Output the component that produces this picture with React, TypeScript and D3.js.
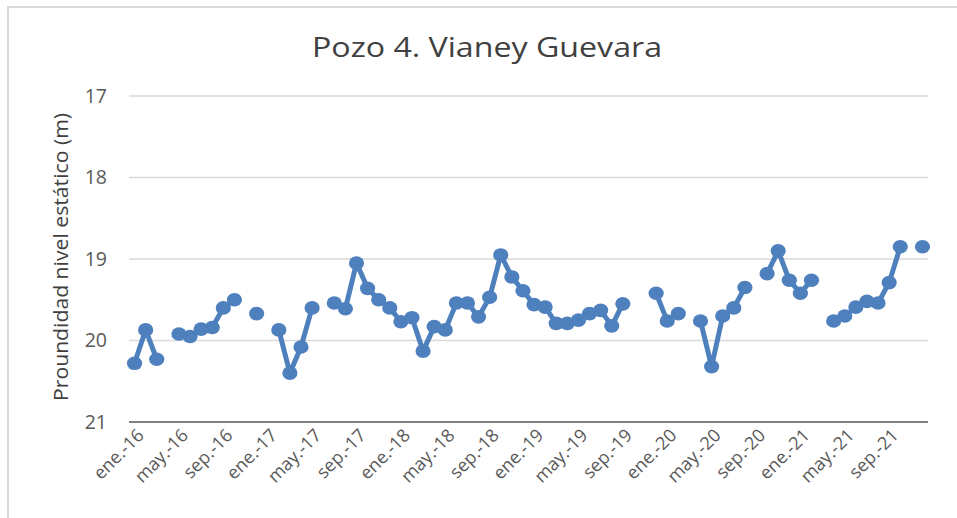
import { useRef, useEffect } from 'react';
import * as d3 from 'd3';

const monthNames = ['ene.', 'feb.', 'mar.', 'abr.', 'may.', 'jun.', 'jul.', 'ago.', 'sep.', 'oct.', 'nov.', 'dic.'];
const years = ['16', '17', '18', '19', '20', '21'];
const months = years.flatMap((y) => monthNames.map((m) => `${m}-${y}`));

// profundidad del nivel estático (m); null = sin medición
const depth: (number | null)[] = [
  20.28, 19.87, 20.23, null, 19.92, 19.95, 19.86, 19.84, 19.6, 19.5, null, 19.67,
  null, 19.87, 20.4, 20.08, 19.6, null, 19.54, 19.61, 19.05, 19.36, 19.5, 19.6,
  19.77, 19.72, 20.13, 19.83, 19.87, 19.54, 19.54, 19.71, 19.47, 18.95, 19.22, 19.39,
  19.56, 19.59, 19.79, 19.79, 19.75, 19.67, 19.63, 19.82, 19.55, null, null, 19.42,
  19.76, 19.67, null, 19.76, 20.32, 19.7, 19.6, 19.35, null, 19.18, 18.9, 19.26,
  19.42, 19.26, null, 19.76, 19.7, 19.59, 19.52, 19.54, 19.29, 18.85, null, 18.85,
];

const yTicks = [17, 18, 19, 20, 21];
const title = 'Pozo 4. Vianey Guevara';
const yTitle = 'Proundidad nivel estático (m)';

export default function App() {
  const ref = useRef<SVGSVGElement>(null);

  useEffect(() => {
    if (!ref.current) return;
    const width = 957;
    const height = 518;
    const margin = { top: 96, right: 29, bottom: 96, left: 129 };
    const blue = '#4e80bd';
    const font = "'Open Sans', sans-serif";

    const svg = d3.select(ref.current);
    svg.selectAll('*').remove();
    svg.attr('width', width).attr('height', height);

    svg
      .append('rect')
      .attr('x', 8)
      .attr('y', 7)
      .attr('width', 980)
      .attr('height', 540)
      .attr('fill', '#fff')
      .attr('stroke', '#d9d9d9')
      .attr('stroke-width', 2);

    const x = d3
      .scaleBand()
      .domain(months)
      .range([margin.left, width - margin.right]);

    const y = d3
      .scaleLinear()
      .domain([17, 21])
      .range([margin.top, height - margin.bottom]);

    // gridlines
    svg
      .append('g')
      .selectAll('line')
      .data(yTicks.slice(0, -1))
      .join('line')
      .attr('x1', margin.left)
      .attr('x2', width - margin.right)
      .attr('y1', (d) => y(d))
      .attr('y2', (d) => y(d))
      .attr('stroke', '#d9d9d9')
      .attr('stroke-width', 1.5);

    // bottom axis line
    svg
      .append('line')
      .attr('x1', margin.left)
      .attr('x2', width - margin.right)
      .attr('y1', y(21))
      .attr('y2', y(21))
      .attr('stroke', '#7f7f7f')
      .attr('stroke-width', 2);

    svg
      .append('g')
      .selectAll('text')
      .data(yTicks)
      .join('text')
      .attr('x', 107)
      .attr('y', (d) => y(d))
      .attr('dy', '0.35em')
      .attr('text-anchor', 'end')
      .attr('font-family', font)
      .attr('font-size', 19.5)
      .attr('fill', '#595959')
      .text((d) => d);

    const cx = (d: string) => (x(d) || 0) + x.bandwidth() / 2;

    svg
      .append('g')
      .selectAll('text')
      .data(months.filter((_, i) => i % 4 === 0))
      .join('text')
      .attr('transform', (d) => `translate(${cx(d) + 6},${y(21) + 10}) rotate(-45)`)
      .attr('text-anchor', 'end')
      .attr('dy', '0.35em')
      .attr('font-family', font)
      .attr('font-size', 18)
      .attr('fill', '#595959')
      .text((d) => d);

    const pts = months.map((m, i) => ({ m, v: depth[i] }));

    const line = d3
      .line<{ m: string; v: number | null }>()
      .defined((d) => d.v != null)
      .x((d) => cx(d.m))
      .y((d) => y(d.v as number));

    svg
      .append('path')
      .datum(pts)
      .attr('d', line)
      .attr('fill', 'none')
      .attr('stroke', blue)
      .attr('stroke-width', 5)
      .attr('stroke-linejoin', 'round');

    svg
      .append('g')
      .selectAll('ellipse')
      .data(pts.filter((d) => d.v != null))
      .join('ellipse')
      .attr('cx', (d) => cx(d.m))
      .attr('cy', (d) => y(d.v as number))
      .attr('rx', 7.6)
      .attr('ry', 6.8)
      .attr('fill', blue);

    svg
      .append('text')
      .attr('x', 487)
      .attr('y', 47)
      .attr('dy', '0.35em')
      .attr('text-anchor', 'middle')
      .attr('font-family', font)
      .attr('font-size', 28)
      .attr('textLength', 350)
      .attr('lengthAdjust', 'spacingAndGlyphs')
      .attr('fill', '#404040')
      .text(title);

    svg
      .append('text')
      .attr('transform', `translate(61,257) rotate(-90)`)
      .attr('dy', '0.35em')
      .attr('text-anchor', 'middle')
      .attr('font-family', font)
      .attr('font-size', 19.5)
      .attr('textLength', 288)
      .attr('lengthAdjust', 'spacingAndGlyphs')
      .attr('fill', '#404040')
      .text(yTitle);
  }, []);

  return <svg ref={ref} style={{ position: 'absolute', left: 0, top: 0 }}></svg>;
}
